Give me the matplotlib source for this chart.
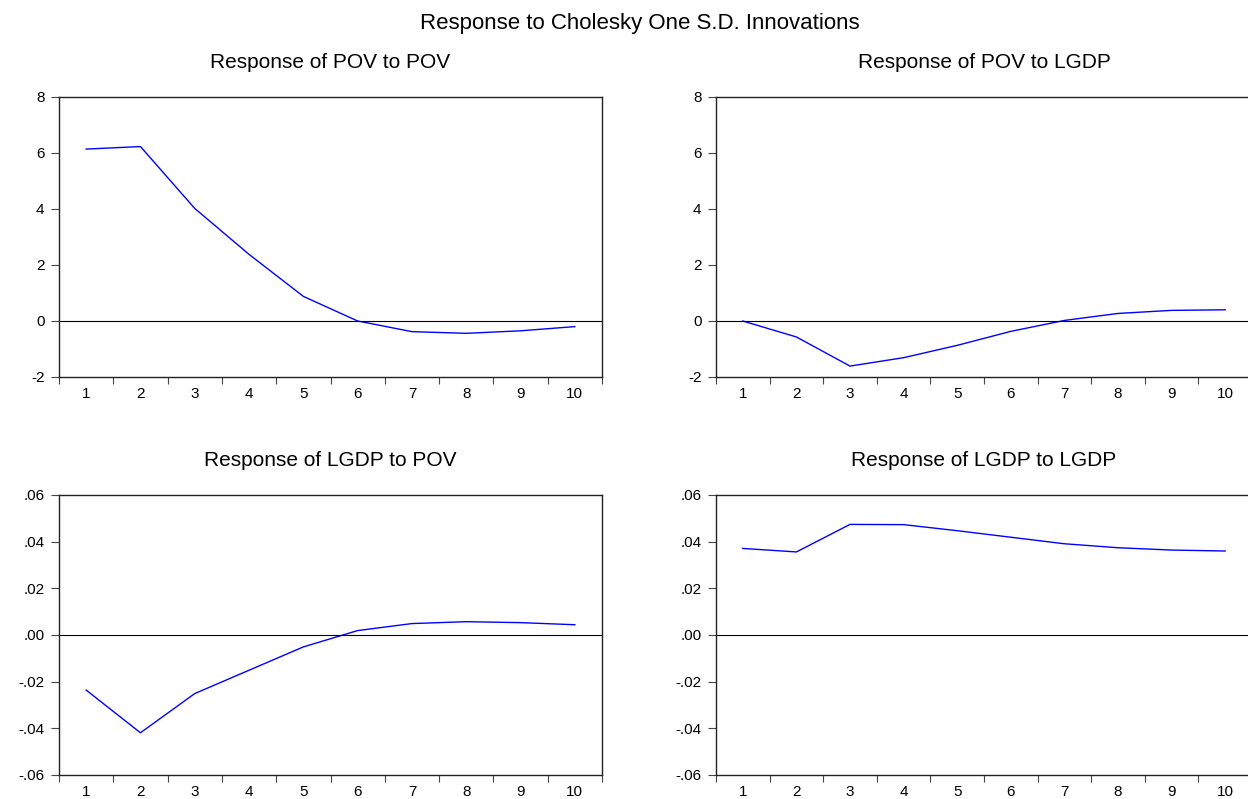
import numpy as np
import matplotlib.pyplot as plt
from matplotlib.ticker import FixedLocator, FuncFormatter

plt.rcParams['font.family'] = ['Liberation Sans', 'DejaVu Sans']

periods = list(range(1, 11))

# impulse responses
pov_to_pov = [6.14, 6.23, 4.02, 2.38, 0.88, 0.00, -0.38, -0.44, -0.35, -0.20]
pov_to_lgdp = [0.00, -0.57, -1.61, -1.31, -0.87, -0.37, 0.02, 0.27, 0.38, 0.40]
lgdp_to_pov = [-0.0236, -0.0419, -0.0251, -0.0151, -0.0051, 0.0019, 0.0049, 0.0057, 0.0053, 0.0044]
lgdp_to_lgdp = [0.0371, 0.0356, 0.0474, 0.0473, 0.0447, 0.0419, 0.0391, 0.0374, 0.0364, 0.0360]

titles = ['Response of POV to POV', 'Response of POV to LGDP',
          'Response of LGDP to POV', 'Response of LGDP to LGDP']
series = [pov_to_pov, pov_to_lgdp, lgdp_to_pov, lgdp_to_lgdp]
pov_ticks = [-2, 0, 2, 4, 6, 8]
lgdp_ticks = [-0.06, -0.04, -0.02, 0.00, 0.02, 0.04, 0.06]

W, H = 1248, 799
fig = plt.figure(figsize=(W / 100, H / 100), dpi=100)

# axes boxes in pixels: left, top, right, bottom
boxes = [(59, 97, 602, 377), (716, 97, 1252, 377),
         (59, 495, 602, 775), (716, 495, 1252, 775)]


def lgdp_fmt(v, pos):
    s = '%.2f' % v
    s = s.replace('0.', '.')
    if s == '-.00':
        s = '.00'
    return s


for i, (l, t, r, b) in enumerate(boxes):
    ax = fig.add_axes([l / W, 1 - b / H, (r - l) / W, (b - t) / H])
    ax.plot(periods, series[i], color='#0000FF', lw=1.0)
    ax.axhline(0, color='black', lw=0.8)
    ax.set_xlim(0.5, 10.5)
    if i < 2:
        ax.set_ylim(-2, 8)
        ax.yaxis.set_major_locator(FixedLocator(pov_ticks))
        ax.yaxis.set_major_formatter(FuncFormatter(lambda v, p: '%d' % v))
    else:
        ax.set_ylim(-0.06, 0.06)
        ax.yaxis.set_major_locator(FixedLocator(lgdp_ticks))
        ax.yaxis.set_major_formatter(FuncFormatter(lgdp_fmt))
    ax.set_xticks(periods)
    ax.set_xticks(np.arange(0.5, 11, 1), minor=True)
    ax.tick_params(axis='x', which='major', length=0, pad=7, labelsize=11)
    ax.tick_params(axis='x', which='minor', length=5, width=0.8,
                   direction='out', color='#444444')
    ax.tick_params(axis='y', which='major', length=5.5, width=0.8,
                   labelsize=11, pad=5, color='#444444')
    for sp in ax.spines.values():
        sp.set_linewidth(1.0)
        sp.set_color('#222222')
    ax.set_title(titles[i], fontsize=15, pad=21)

fig.text(640 / W, 1 - 28.5 / H, 'Response to Cholesky One S.D. Innovations',
         ha='center', va='baseline', fontsize=16)

fig.savefig('out.png', dpi=100)
